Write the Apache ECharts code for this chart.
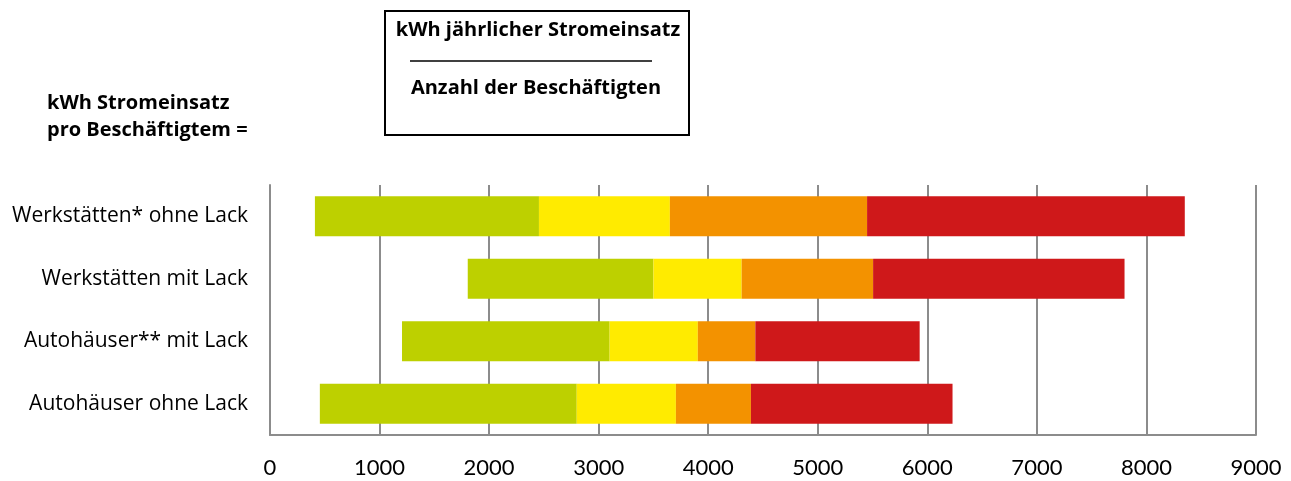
<!DOCTYPE html>
<html>
<head>
<meta charset="utf-8">
<script src="https://cdn.jsdelivr.net/npm/echarts@6/dist/echarts.min.js"></script>
<style>
  html, body { margin: 0; padding: 0; background: #fff; }
  #chart { width: 1291px; height: 481px; }
</style>
</head>
<body>
<div id="chart"></div>
<script>
// categories, top to bottom
const categories = ['Werkstätten* ohne Lack', 'Werkstätten mit Lack', 'Autohäuser** mit Lack', 'Autohäuser ohne Lack'];

// range boundaries (kWh per employee)
const rangeStart = [410, 1805, 1205, 455];
const greenEnd   = [2455, 3500, 3100, 2800];
const yellowEnd  = [3650, 4305, 3905, 3705];
const orangeEnd  = [5450, 5505, 4430, 4390];
const redEnd     = [8350, 7800, 5930, 6230];

const xTicks = [0, 1000, 2000, 3000, 4000, 5000, 6000, 7000, 8000, 9000];

const colors = ['#BDD000', '#FFEB00', '#F39200', '#CF181A'];

const diff = (a, b) => a.map((v, i) => v - b[i]);
const segments = [
    diff(greenEnd, rangeStart),
    diff(yellowEnd, greenEnd),
    diff(orangeEnd, yellowEnd),
    diff(redEnd, orangeEnd)
];

const font = '"Open Sans", Lato, sans-serif';

const chart = echarts.init(document.getElementById('chart'));

chart.setOption({
    animation: false,
    grid: { left: 270, right: 35, top: 185, bottom: 46 },
    xAxis: {
        type: 'value',
        min: xTicks[0],
        max: xTicks[xTicks.length - 1],
        interval: 1000,
        axisLine: { show: true, lineStyle: { color: '#8c8c8c', width: 2 } },
        axisTick: { show: false },
        axisLabel: {
            color: '#000', fontSize: 22, fontFamily: 'Lato, sans-serif', margin: 22,
            formatter: v => String(v)
        },
        splitLine: { show: true, lineStyle: { color: '#8c8c8c', width: 2 } }
    },
    yAxis: {
        type: 'category',
        data: categories,
        inverse: true,
        axisLine: { show: true, lineStyle: { color: '#8c8c8c', width: 2 } },
        axisTick: { show: false },
        axisLabel: { color: '#000', fontSize: 21, fontFamily: font, margin: 22 }
    },
    series: [
        {
            type: 'bar', stack: 'r', data: rangeStart, barWidth: 40,
            itemStyle: { color: 'transparent' }, silent: true
        }
    ].concat(segments.map((d, i) => ({
        type: 'bar', stack: 'r', data: d, barWidth: 40,
        itemStyle: { color: colors[i] }
    }))),
    graphic: [
        {
            type: 'rect', left: 384, top: 10,
            shape: { width: 304, height: 124 },
            style: { fill: '#fff', stroke: '#000', lineWidth: 2 }
        },
        {
            type: 'text', x: 538, y: 30,
            style: { text: 'kWh jährlicher Stromeinsatz', font: 'bold 20px ' + font, fill: '#000', align: 'center', verticalAlign: 'middle' }
        },
        {
            type: 'line',
            shape: { x1: 410, y1: 61, x2: 652, y2: 61 },
            style: { stroke: '#000', lineWidth: 1.5 }
        },
        {
            type: 'text', x: 536, y: 88,
            style: { text: 'Anzahl der Beschäftigten', font: 'bold 20px ' + font, fill: '#000', align: 'center', verticalAlign: 'middle' }
        },
        {
            type: 'text', x: 47, y: 103,
            style: { text: 'kWh Stromeinsatz', font: 'bold 20px ' + font, fill: '#000', align: 'left', verticalAlign: 'middle' }
        },
        {
            type: 'text', x: 47, y: 130,
            style: { text: 'pro Beschäftigtem =', font: 'bold 20px ' + font, fill: '#000', align: 'left', verticalAlign: 'middle' }
        }
    ]
});

window.addEventListener('resize', function () {
    chart.resize();
});
</script>
</body>
</html>
